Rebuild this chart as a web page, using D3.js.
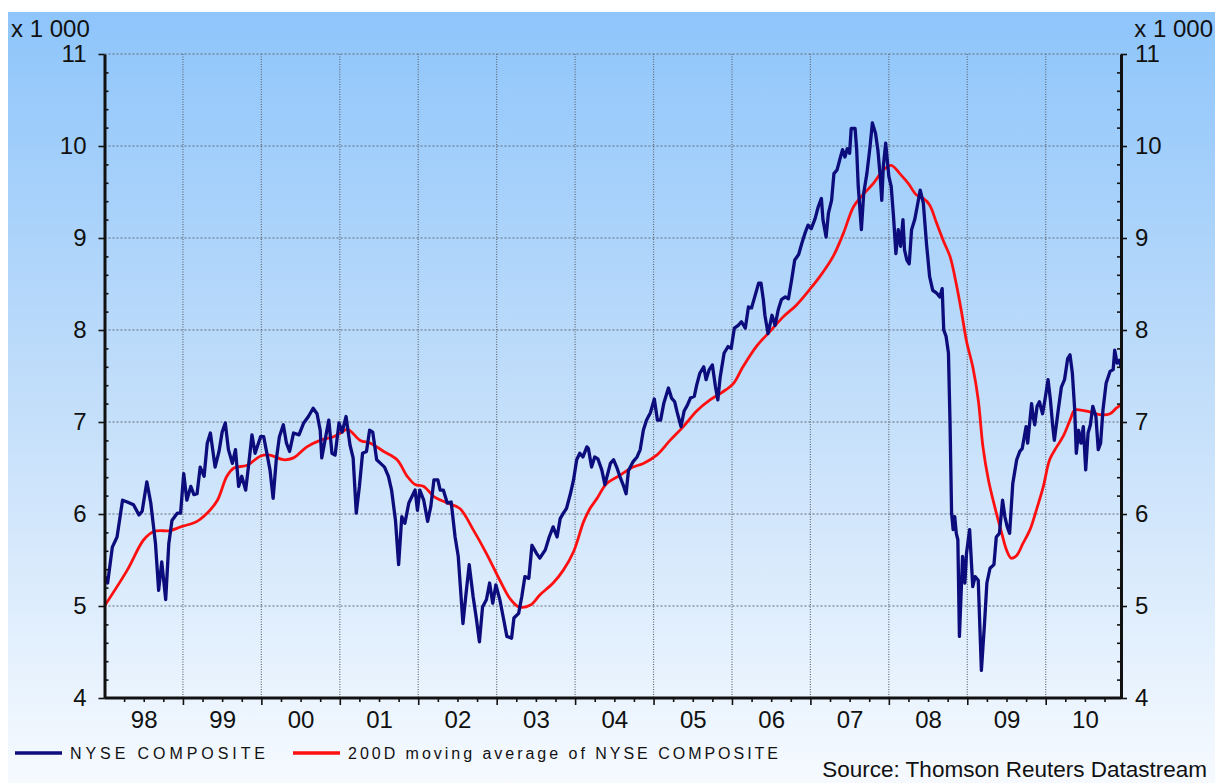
<!DOCTYPE html>
<html><head><meta charset="utf-8">
<script src="https://cdn.jsdelivr.net/npm/d3@7"></script>
<style>body{margin:0;background:#fff}svg{display:block}</style>
</head><body><svg id="c" width="1215" height="783"></svg>
<script>
// ---------------- DATA ----------------
const yearStarts = [1998,1999,2000,2001,2002,2003,2004,2005,2006,2007,2008,2009,2010];
const yearLabels = ["98","99","00","01","02","03","04","05","06","07","08","09","10"];
const yTickValues = [4,5,6,7,8,9,10,11];
const unitLabel = "x 1 000";
const seriesNames = ["NYSE COMPOSITE","200D moving average of NYSE COMPOSITE"];
const sourceText = "Source: Thomson Reuters Datastream";

// NYSE Composite (x 1000), dates as decimal years
const nyseDates = [
1998.01,1998.04,1998.10,1998.16,1998.23,1998.29,1998.37,1998.44,1998.48,1998.54,1998.59,1998.65,1998.69,1998.73,1998.78,1998.82,1998.86,1998.93,1998.97,
1999.01,1999.05,1999.10,1999.14,1999.18,1999.22,1999.27,1999.31,1999.35,1999.41,1999.46,1999.50,1999.54,1999.58,1999.63,1999.67,1999.71,1999.75,1999.80,1999.84,1999.88,1999.92,1999.99,
2000.03,2000.07,2000.11,2000.15,2000.19,2000.23,2000.28,2000.32,2000.36,2000.41,2000.48,2000.54,2000.60,2000.66,2000.71,2000.75,2000.77,2000.82,2000.86,2000.90,2000.94,2000.99,
2001.03,2001.08,2001.13,2001.17,2001.21,2001.25,2001.29,2001.34,2001.38,2001.42,2001.47,2001.52,2001.57,2001.62,2001.66,2001.71,2001.75,2001.79,2001.83,2001.88,2001.92,2001.96,2001.99,
2002.02,2002.07,2002.12,2002.16,2002.20,2002.25,2002.28,2002.32,2002.37,2002.42,2002.47,2002.51,2002.57,2002.61,2002.65,2002.70,2002.74,2002.78,2002.82,2002.87,2002.91,2002.95,2002.99,
2003.04,2003.09,2003.13,2003.19,2003.22,2003.28,2003.32,2003.36,2003.41,2003.45,2003.51,2003.55,2003.62,2003.67,2003.72,2003.77,2003.81,2003.85,2003.89,2003.94,2003.98,
2004.02,2004.06,2004.10,2004.15,2004.17,2004.21,2004.25,2004.29,2004.34,2004.38,2004.45,2004.49,2004.53,2004.57,2004.62,2004.65,2004.68,2004.74,2004.79,2004.83,2004.87,2004.91,2004.96,
2005.01,2005.05,2005.09,2005.13,2005.19,2005.23,2005.27,2005.30,2005.35,2005.39,2005.43,2005.47,2005.52,2005.55,2005.59,2005.64,2005.67,2005.71,2005.75,2005.79,2005.82,2005.85,2005.90,2005.95,2005.99,
2006.03,2006.08,2006.12,2006.17,2006.21,2006.25,2006.29,2006.34,2006.37,2006.40,2006.42,2006.46,2006.51,2006.55,2006.59,2006.63,2006.68,2006.72,2006.76,2006.80,2006.85,2006.89,2006.93,2006.97,
2007.01,2007.06,2007.10,2007.14,2007.16,2007.20,2007.23,2007.27,2007.30,2007.34,2007.38,2007.41,2007.44,2007.47,2007.50,2007.52,2007.57,2007.59,2007.61,2007.65,2007.68,2007.72,2007.76,2007.79,2007.83,2007.86,2007.89,2007.91,2007.93,2007.96,2007.98,
2008.00,2008.03,2008.06,2008.09,2008.12,2008.15,2008.18,2008.20,2008.23,2008.26,2008.29,2008.33,2008.37,2008.40,2008.44,2008.48,2008.52,2008.56,2008.61,2008.65,2008.68,2008.70,2008.73,2008.76,2008.78,2008.80,2008.82,2008.84,2008.86,2008.88,2008.90,2008.94,2008.97,2008.99,
2009.03,2009.07,2009.10,2009.14,2009.18,2009.22,2009.25,2009.29,2009.34,2009.37,2009.41,2009.45,2009.48,2009.51,2009.54,2009.58,2009.63,2009.67,2009.70,2009.75,2009.77,2009.82,2009.84,2009.86,2009.89,2009.92,2009.96,2009.99,
2010.03,2010.06,2010.09,2010.11,2010.16,2010.20,2010.24,2010.28,2010.31,2010.34,2010.37,2010.39,2010.42,2010.45,2010.48,2010.51,2010.54,2010.57,2010.60,2010.64,2010.67,2010.70,2010.73,2010.77,2010.82,2010.86,2010.88,2010.91,2010.94,2010.96
];
const nyseValues = [
5.32,5.25,5.64,5.75,6.15,6.13,6.10,5.99,6.03,6.35,6.12,5.68,5.17,5.48,5.07,5.68,5.93,6.01,6.01,
6.44,6.15,6.30,6.21,6.22,6.51,6.41,6.77,6.88,6.51,6.68,6.89,6.99,6.70,6.55,6.70,6.30,6.41,6.26,6.55,6.86,6.66,6.84,
6.84,6.66,6.48,6.17,6.59,6.84,6.97,6.77,6.68,6.88,6.86,6.99,7.06,7.15,7.09,6.91,6.61,6.84,7.02,6.66,6.64,6.99,
6.89,7.06,6.75,6.61,6.01,6.30,6.66,6.68,6.91,6.89,6.59,6.55,6.51,6.41,6.26,5.93,5.45,5.97,5.90,6.12,6.19,6.26,6.04,
6.26,6.15,5.92,6.08,6.37,6.37,6.26,6.26,6.12,6.13,5.75,5.54,4.81,5.14,5.45,5.10,4.87,4.61,4.99,5.07,5.25,5.03,5.23,
5.07,4.85,4.67,4.65,4.87,4.92,5.10,5.32,5.30,5.66,5.57,5.52,5.61,5.75,5.86,5.75,5.95,6.01,6.06,6.22,6.37,
6.59,6.66,6.62,6.73,6.71,6.51,6.62,6.60,6.48,6.32,6.55,6.59,6.51,6.41,6.30,6.22,6.47,6.57,6.62,6.70,6.91,7.02,7.10,
7.25,7.02,7.02,7.20,7.37,7.26,7.22,7.11,6.95,7.12,7.18,7.26,7.28,7.40,7.53,7.60,7.46,7.57,7.62,7.38,7.24,7.49,7.75,7.82,7.80,
8.02,8.05,8.09,8.02,8.25,8.24,8.36,8.51,8.51,8.33,8.16,7.96,8.16,8.05,8.22,8.33,8.36,8.34,8.54,8.76,8.82,8.94,9.05,9.14,
9.10,9.21,9.34,9.43,9.20,9.01,9.27,9.41,9.70,9.74,9.87,9.96,9.88,9.97,9.92,10.19,10.19,9.96,9.56,9.09,9.49,9.70,9.99,10.25,10.14,9.96,9.67,9.41,9.78,10.03,9.85,
9.67,9.56,9.23,8.83,9.09,8.91,9.20,8.87,8.76,8.72,9.09,9.20,9.38,9.52,9.38,8.94,8.58,8.43,8.40,8.36,8.45,8.00,7.93,7.75,7.00,6.01,5.83,5.97,5.79,5.72,4.67,5.54,5.25,5.57,
5.83,5.21,5.32,5.28,4.30,4.81,5.25,5.41,5.45,5.75,5.79,6.15,5.97,5.86,5.79,6.33,6.59,6.68,6.71,6.95,6.77,7.20,7.06,6.97,7.17,7.22,7.09,7.24,
7.46,7.24,6.95,6.80,7.13,7.38,7.46,7.69,7.73,7.53,7.13,6.66,6.91,6.77,6.95,6.48,6.88,6.97,7.17,7.06,6.70,6.77,7.13,7.42,7.55,7.57,7.78,7.64,7.67,7.60
];

// 200-day moving average (x 1000)
const maDates = [
1998.00,1998.29,1998.50,1998.63,1998.84,1998.97,1999.18,1999.31,1999.44,1999.56,1999.65,1999.82,1999.99,
2000.11,2000.28,2000.41,2000.58,2000.75,2000.92,2001.01,2001.10,2001.26,2001.39,2001.56,2001.73,2001.86,2001.96,
2002.07,2002.20,2002.37,2002.53,2002.70,2002.87,2003.04,2003.17,2003.28,2003.43,2003.55,2003.72,2003.85,2003.98,
2004.11,2004.19,2004.28,2004.40,2004.57,2004.74,2004.87,2005.04,2005.21,2005.38,2005.55,2005.72,2005.87,
2006.02,2006.14,2006.31,2006.48,2006.65,2006.82,2006.99,2007.12,2007.29,2007.42,2007.55,2007.67,2007.80,2007.93,
2008.03,2008.14,2008.25,2008.35,2008.44,2008.52,2008.61,2008.71,2008.78,2008.86,2008.93,2008.99,
2009.07,2009.14,2009.20,2009.27,2009.35,2009.44,2009.50,2009.56,2009.63,2009.71,2009.80,2009.88,2009.97,
2010.05,2010.14,2010.22,2010.31,2010.37,2010.45,2010.56,2010.69,2010.82,2010.90,2010.95
];
const maValues = [
5.00,5.39,5.72,5.81,5.82,5.86,5.92,6.01,6.15,6.41,6.50,6.53,6.63,
6.64,6.59,6.61,6.73,6.80,6.84,6.88,6.92,6.80,6.77,6.68,6.59,6.41,6.32,
6.30,6.19,6.12,6.06,5.83,5.57,5.28,5.08,4.99,5.01,5.12,5.25,5.39,5.59,
5.92,6.06,6.17,6.33,6.42,6.51,6.55,6.64,6.80,6.95,7.12,7.24,7.32,
7.42,7.60,7.82,7.98,8.14,8.27,8.44,8.58,8.80,9.05,9.34,9.47,9.59,9.74,
9.79,9.70,9.59,9.47,9.43,9.36,9.16,8.94,8.80,8.50,8.18,7.88,
7.60,7.24,6.73,6.37,6.08,5.79,5.61,5.52,5.55,5.68,5.83,6.04,6.30,
6.59,6.73,6.84,7.02,7.13,7.13,7.11,7.08,7.09,7.15,7.18
];

// ---------------- CHART ----------------
const W = 1215, H = 783;
const P = {l:104.5, r:1121, t:54, b:698};
const FONT = "'Liberation Sans', Arial, sans-serif";
const svg = d3.select("#c");

const defs = svg.append("defs");
const grad = defs.append("linearGradient").attr("id","bg").attr("x1",0).attr("y1",0).attr("x2",0).attr("y2",1);
grad.append("stop").attr("offset","0%").attr("stop-color","#8ec5fb");
grad.append("stop").attr("offset","50%").attr("stop-color","#c2defa");
grad.append("stop").attr("offset","100%").attr("stop-color","#f6faff");

svg.append("rect").attr("width",W).attr("height",H).attr("fill","#fff");
svg.append("rect").attr("x",8).attr("y",12).attr("width",W-8).attr("height",H-12).attr("fill","url(#bg)");

const x = d3.scaleLinear().domain([1998, 2010.96]).range([P.l, P.r]);
const y = d3.scaleLinear().domain([4, 11]).range([P.b, P.t]);

// grid
const grid = svg.append("g");
grid.selectAll("line.h").data(yTickValues.filter(v => v > 4)).join("line")
  .attr("x1", P.l).attr("x2", P.r).attr("y1", d => y(d)).attr("y2", d => y(d))
  .attr("stroke", "#5f6a78").attr("stroke-width", 1.2).attr("stroke-dasharray", "2,2");
grid.selectAll("line.v").data(yearStarts.slice(1)).join("line")
  .attr("x1", d => x(d)).attr("x2", d => x(d)).attr("y1", P.t).attr("y2", P.b)
  .attr("stroke", "#5f6a78").attr("stroke-width", 1.2).attr("stroke-dasharray", "1,1.5");

// series
const pts = (ds, vs) => ds.map((d, i) => [d, vs[i]]);
svg.append("path").datum(pts(maDates, maValues))
  .attr("d", d3.line().x(d => x(d[0])).y(d => y(d[1])).curve(d3.curveCatmullRom.alpha(0.5)))
  .attr("fill","none").attr("stroke","#ff1010").attr("stroke-width",2.8).attr("stroke-linejoin","round");
svg.append("path").datum(pts(nyseDates, nyseValues))
  .attr("d", d3.line().x(d => x(d[0])).y(d => y(d[1])))
  .attr("fill","none").attr("stroke","#0c0c7c").attr("stroke-width",3.3).attr("stroke-linejoin","round");

// axes
function styleAxis(g, w) {
  g.select(".domain").attr("stroke","#111").attr("stroke-width", w);
  g.selectAll(".tick line").attr("stroke","#111").attr("stroke-width",1.6);
  g.selectAll("text").attr("font-family", FONT).attr("font-size", 24).attr("fill","#111");
}
const minorY = d3.range(4, 11.001, 0.2).filter(v => Math.abs(v - Math.round(v)) > 0.01);

const gL = svg.append("g").attr("transform",`translate(${P.l},0)`)
  .call(d3.axisLeft(y).tickValues(yTickValues).tickSize(6).tickSizeOuter(0).tickPadding(12).tickFormat(d3.format("d")));
styleAxis(gL, 3);
const gLm = svg.append("g").attr("transform",`translate(${P.l},0)`)
  .call(d3.axisRight(y).tickValues(minorY).tickSize(4).tickFormat(""));
gLm.select(".domain").remove(); gLm.selectAll(".tick line").attr("stroke","#111").attr("stroke-width",1.6);

const gR = svg.append("g").attr("transform",`translate(${P.r},0)`)
  .call(d3.axisRight(y).tickValues(yTickValues).tickSize(6).tickSizeOuter(0).tickPadding(8).tickFormat(d3.format("d")));
styleAxis(gR, 3);
const gRm = svg.append("g").attr("transform",`translate(${P.r},0)`)
  .call(d3.axisLeft(y).tickValues(minorY).tickSize(4).tickFormat(""));
gRm.select(".domain").remove(); gRm.selectAll(".tick line").attr("stroke","#111").attr("stroke-width",1.6);

const quarters = d3.range(1998, 2011, 0.25).filter(v => v > 1998 && v < 2010.96 && Math.abs(v - Math.round(v)) > 0.01);
const gB = svg.append("g").attr("transform",`translate(0,${P.b})`)
  .call(d3.axisBottom(x).tickValues(yearStarts.slice(1)).tickSize(7).tickSizeOuter(0).tickFormat(""));
styleAxis(gB, 3);
gB.select(".domain").attr("d", `M${P.l},0H${P.r}`);
const gBm = svg.append("g").attr("transform",`translate(0,${P.b})`)
  .call(d3.axisBottom(x).tickValues(quarters).tickSize(4).tickFormat(""));
gBm.select(".domain").remove(); gBm.selectAll(".tick line").attr("stroke","#111").attr("stroke-width",1.6);
const gBl = svg.append("g").attr("transform",`translate(0,${P.b})`)
  .call(d3.axisBottom(x).tickValues(yearStarts.map(d => d + 0.5)).tickSize(0).tickPadding(13).tickFormat((d, i) => yearLabels[i]));
gBl.select(".domain").remove();
gBl.selectAll("text").attr("font-family", FONT).attr("font-size", 24).attr("fill","#111");

// unit labels
svg.append("text").attr("x", 11).attr("y", 37).text(unitLabel)
  .attr("font-family", FONT).attr("font-size", 24).attr("fill","#111");
svg.append("text").attr("x", 1213).attr("y", 37).attr("text-anchor","end").text(unitLabel)
  .attr("font-family", FONT).attr("font-size", 24).attr("fill","#111");

// legend
const leg = svg.append("g");
const legItems = [
  {name: seriesNames[0], color:"#0c0c7c", x0:15, len:195},
  {name: seriesNames[1], color:"#ff1010", x0:293, len:430}
];
legItems.forEach(it => {
  leg.append("line").attr("x1", it.x0).attr("x2", it.x0 + 47).attr("y1", 753).attr("y2", 753)
    .attr("stroke", it.color).attr("stroke-width", 3.5);
  leg.append("text").attr("x", it.x0 + 55).attr("y", 759).text(it.name)
    .attr("textLength", it.len).attr("lengthAdjust", "spacing")
    .attr("font-family", FONT).attr("font-size", 16).attr("fill","#111");
});

// source
svg.append("text").attr("x", 1207).attr("y", 777).attr("text-anchor","end").text(sourceText)
  .attr("font-family", FONT).attr("font-size", 22.5).attr("fill","#111");
</script></body></html>
